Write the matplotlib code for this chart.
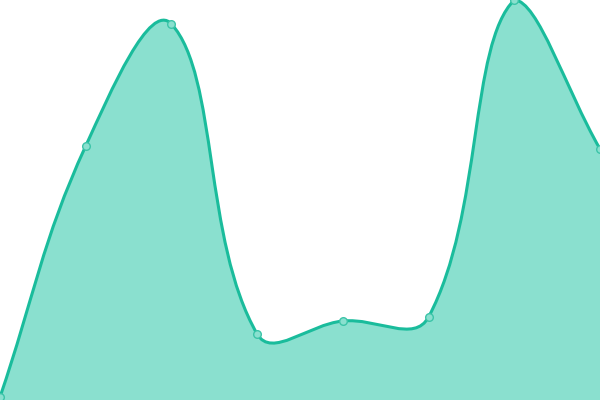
import numpy as np
import matplotlib
matplotlib.use("Agg")
import matplotlib.pyplot as plt
from matplotlib.path import Path
from matplotlib.patches import PathPatch

# data
labels = ["1", "2", "3", "4", "5", "6", "7", "8"]
values = [3, 254, 376, 66, 79, 83, 400, 251]

line_color = "#1abc9c"
fill_color = "#8ae0cf"
tension = 0.4

fig = plt.figure(figsize=(6, 4), dpi=100)
ax = fig.add_axes([0, 0, 1, 1])
ax.set_xlim(0, len(values) - 1)
ax.set_ylim(0, 400)
ax.axis("off")

xs = np.arange(len(values))
pts = ax.transData.transform(np.column_stack([xs, values]))
W, H = fig.bbox.width, fig.bbox.height


def clamp(p):
    return np.array([min(max(p[0], 0), W), min(max(p[1], 0), H)])


# cardinal spline control points (same idea as chart.js tension)
ctrl_prev, ctrl_next = [], []
n = len(pts)
for i in range(n):
    cur = pts[i]
    prev = pts[i - 1] if i > 0 else cur
    nxt = pts[i + 1] if i < n - 1 else cur
    d01 = np.hypot(*(cur - prev))
    d12 = np.hypot(*(nxt - cur))
    tot = d01 + d12
    s01 = d01 / tot if tot else 0
    s12 = d12 / tot if tot else 0
    ctrl_prev.append(clamp(cur - tension * s01 * (nxt - prev)))
    ctrl_next.append(clamp(cur + tension * s12 * (nxt - prev)))

verts = [pts[0]]
codes = [Path.MOVETO]
for i in range(1, n):
    verts += [ctrl_next[i - 1], ctrl_prev[i], pts[i]]
    codes += [Path.CURVE4] * 3

inv = ax.transData.inverted()
curve = inv.transform(np.array(verts))

fill_verts = np.vstack([curve, [[xs[-1], 0], [xs[0], 0], curve[0]]])
fill_codes = codes + [Path.LINETO, Path.LINETO, Path.CLOSEPOLY]
ax.add_patch(PathPatch(Path(fill_verts, fill_codes), facecolor=fill_color,
                       edgecolor="none", zorder=1))
ax.add_patch(PathPatch(Path(curve, codes), facecolor="none",
                       edgecolor=line_color, lw=2.2, zorder=2))

ax.plot(xs, values, "o", ms=5.5, mfc=fill_color, mec="#3cc4a8", mew=1,
        zorder=3, clip_on=False)

fig.savefig("out.png", dpi=100)
